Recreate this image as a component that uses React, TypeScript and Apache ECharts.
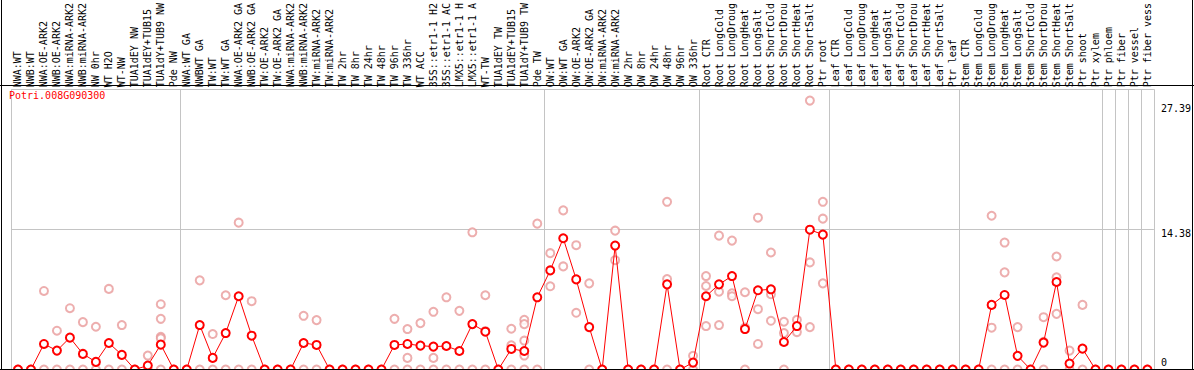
import React, { useEffect, useRef } from 'react';
import * as echarts from 'echarts';

const geneName = 'Potri.008G090300';

const categories = [
  'NWA:WT', 'NWB:WT', 'NWA:OE-ARK2', 'NWB:OE-ARK2', 'NWA:miRNA-ARK2', 'NWB:miRNA-ARK2', 'NW 0hr', 'WT H2O', 'WT-NW',
  'TUA1dEY NW', 'TUA1dEY+TUB15', 'TUA1dY+TUB9 NW', 'Pde NW',
  'NWA:WT GA', 'NWBWT GA', 'TW:WT', 'TW:WT GA', 'NWA:OE-ARK2 GA', 'NWB:OE-ARK2 GA', 'TW:OE-ARK2', 'TW:OE-ARK2 GA',
  'NWA:miRNA-ARK2', 'NWB:miRNA-ARK2', 'TW:miRNA-ARK2', 'TW:miRNA-ARK2', 'TW 2hr', 'TW 8hr', 'TW 24hr', 'TW 48hr',
  'TW 96hr', 'TW 336hr', 'WT ACC', '35S::etr1-1 H2', '35S::etr1-1 AC', 'LMX5::etr1-1 H', 'LMX5::etr1-1 A', 'WT-TW',
  'TUA1dEY TW', 'TUA1dEY+TUB15', 'TUA1dY+TUB9 TW', 'Pde TW',
  'OW:WT', 'OW:WT GA', 'OW:OE-ARK2', 'OW:OE-ARK2 GA', 'OW:miRNA-ARK2', 'OW:miRNA-ARK2', 'OW 2hr', 'OW 8hr', 'OW 24hr',
  'OW 48hr', 'OW 96hr', 'OW 336hr',
  'Root CTR', 'Root LongCold', 'Root LongDroug', 'Root LongHeat', 'Root LongSalt', 'Root ShortCold', 'Root ShortDrou',
  'Root ShortHeat', 'Root ShortSalt', 'Ptr root',
  'Leaf CTR', 'Leaf LongCold', 'Leaf LongDroug', 'Leaf LongHeat', 'Leaf LongSalt', 'Leaf ShortCold', 'Leaf ShortDrou',
  'Leaf ShortHeat', 'Leaf ShortSalt', 'Ptr leaf',
  'Stem CTR', 'Stem LongCold', 'Stem LongDroug', 'Stem LongHeat', 'Stem LongSalt', 'Stem ShortCold', 'Stem ShortDrou',
  'Stem ShortHeat', 'Stem ShortSalt', 'Ptr shoot', 'Ptr xylem',
  'Ptr phloem', 'Ptr fiber', 'Ptr vessel', 'Ptr fiber vess',
];

const means = [
  0, 0, 2.62, 1.94, 3.27, 1.6, 0.78, 2.72, 1.5, 0, 0.41, 2.55, 0,
  0, 4.56, 1.19, 3.74, 7.52, 3.47, 0, 0, 0, 2.72, 2.52, 0, 0, 0, 0, 0, 2.52, 2.62, 2.45, 2.35, 2.41, 1.9, 4.66, 3.88,
  0, 2.11, 1.9, 7.41,
  10.17, 13.47, 9.25, 4.35, 0, 12.72, 0, 0, 0, 8.74, 0, 0.71,
  7.52, 8.74, 9.59, 4.15, 8.13, 8.23, 2.82, 4.46, 14.35, 13.84,
  0, 0, 0, 0, 0, 0, 0, 0, 0, 0,
  0, 0, 6.63, 7.65, 1.4, 0, 2.76, 8.98, 0.61, 2.14, 0,
  0, 0, 0, 0,
];

const replicates = [
  [0], [0], [8.06, 0], [3.98, 0], [6.29, 0], [4.86, 0], [4.39, 0], [8.27, 0], [4.56, 0], [0], [1.43, 0],
  [6.7, 5.2, 3.35, 3.2, 0], [0],
  [0], [9.15, 0], [3.64, 0], [7.62, 0], [15.07, 0], [7.01, 0], [0], [0], [0], [5.51, 0], [5.07, 0], [0], [0], [0],
  [0], [0], [5.2, 0], [4.15, 1.19, 0], [4.76, 0], [5.92, 1.19, 0], [7.41, 0], [6.02, 0], [14.08, 0], [7.62, 3.95, 0],
  [0], [4.18, 2.48, 0], [5.1, 4.66, 2.96, 1.43, 0], [14.97, 0],
  [11.94, 8.54], [16.33, 10.58], [12.76, 5.82], [8.84, 0], [0], [14.25, 11.22], [0], [0], [0], [17.21, 9.29, 0], [0],
  [1.4, 0],
  [9.59, 8.57, 4.46], [13.74, 7.99, 4.56], [13.23, 7.82, 7.52], [7.93, 4.3, 0], [15.58, 6.19, 2.62],
  [12.01, 7.72, 5.0], [4.9, 3.74, 0], [5.1, 3.84], [27.6, 10.99, 4.35], [17.21, 15.48, 8.84],
  [0], [0], [0], [0], [0], [0], [0], [0], [0], [0],
  [0], [0], [15.78, 4.29, 0], [13.03, 9.97, 0], [4.35, 0], [0], [5.37, 2.85, 0], [11.6, 9.46, 5.71], [1.94, 0],
  [6.63, 0], [0],
  [0], [0], [0], [0],
];

const groupStarts = [0, 13, 41, 53, 63, 73, 84, 85, 86, 87];
const yMax = 28.76;
const yInterval = 14.38;
const yLabelValues = [0, 14.38, 27.39];

const FONT = 'DejaVu Sans Mono';
const GRAY = '#c4c4c4';
const RED = '#ff0000';
const PINK = '#e99a9a';

export default function App() {
  const ref = useRef<HTMLDivElement>(null);
  useEffect(() => {
    document.body.style.margin = '0';
    const chart = echarts.init(ref.current as HTMLDivElement, null, { renderer: 'svg' });
    const starts = new Set(groupStarts);
    const isStart = (i: number) => starts.has(i);
    const repData: number[][] = [];
    replicates.forEach((arr, i) => arr.forEach((v) => repData.push([i, v])));

    chart.setOption({
      animation: false,
      backgroundColor: '#fff',
      title: {
        text: geneName,
        left: 9,
        top: 90,
        padding: 0,
        textStyle: { fontFamily: FONT, fontSize: 10, fontWeight: 'normal', color: RED },
      },
      grid: { left: 11.5, right: 38.5, top: 85.5, bottom: 0.5, containLabel: false },
      xAxis: {
        type: 'category',
        position: 'top',
        data: categories,
        boundaryGap: true,
        axisLine: { show: false },
        axisTick: { show: true, length: 86, interval: isStart, lineStyle: { color: GRAY, width: 1 } },
        splitLine: { show: true, interval: isStart, lineStyle: { color: GRAY, width: 1 } },
        axisLabel: {
          interval: 0,
          rotate: 90,
          margin: 2,
          fontFamily: FONT,
          fontSize: 10,
          color: '#000',
        },
      },
      yAxis: {
        type: 'value',
        position: 'right',
        min: 0,
        max: yMax,
        interval: yInterval,
        axisLine: { show: false },
        axisTick: { show: false },
        splitLine: { show: true, lineStyle: { color: GRAY, width: 1 } },
        axisLabel: {
          customValues: yLabelValues,
          margin: 7,
          fontFamily: FONT,
          fontSize: 10,
          color: '#000',
          formatter: (v: number) => {
            if (Math.abs(v - 27.39) < 1e-6) return '{a|27.39}';
            if (Math.abs(v - 14.38) < 1e-6) return '{b|14.38}';
            if (v === 0) return '{c|0}';
            return '';
          },
          rich: {
            a: { fontFamily: FONT, fontSize: 10, color: '#000', padding: [12, 0, 0, 0] },
            b: { fontFamily: FONT, fontSize: 10, color: '#000', padding: [8, 0, 0, 0] },
            c: { fontFamily: FONT, fontSize: 10, color: '#000', padding: [0, 0, 14, 0] },
          },
        },
      },
      series: [
        {
          type: 'scatter',
          data: repData,
          symbol: 'emptyCircle',
          symbolSize: 8,
          itemStyle: { color: PINK, borderColor: PINK, borderWidth: 1.3 },
          z: 2,
          clip: false,
        },
        {
          type: 'line',
          data: means,
          symbol: 'emptyCircle',
          symbolSize: 8,
          showAllSymbol: true,
          lineStyle: { color: RED, width: 1 },
          itemStyle: { color: RED, borderColor: RED, borderWidth: 1.6 },
          z: 3,
          clip: false,
        },
      ],
      graphic: [
        { type: 'line', shape: { x1: 1.5, y1: 0, x2: 1.5, y2: 370 }, style: { stroke: '#000', lineWidth: 1 }, z: 100 },
        { type: 'line', shape: { x1: 1192.5, y1: 0, x2: 1192.5, y2: 370 }, style: { stroke: '#000', lineWidth: 1 }, z: 100 },
        { type: 'line', shape: { x1: 0, y1: 85.5, x2: 1194, y2: 85.5 }, style: { stroke: '#000', lineWidth: 1 }, z: 100 },
        { type: 'line', shape: { x1: 0, y1: 369.5, x2: 1194, y2: 369.5 }, style: { stroke: '#000', lineWidth: 1 }, z: 100 },
      ],
    });
    return () => chart.dispose();
  }, []);
  return <div ref={ref} style={{ width: 1194, height: 370 }} />;
}
